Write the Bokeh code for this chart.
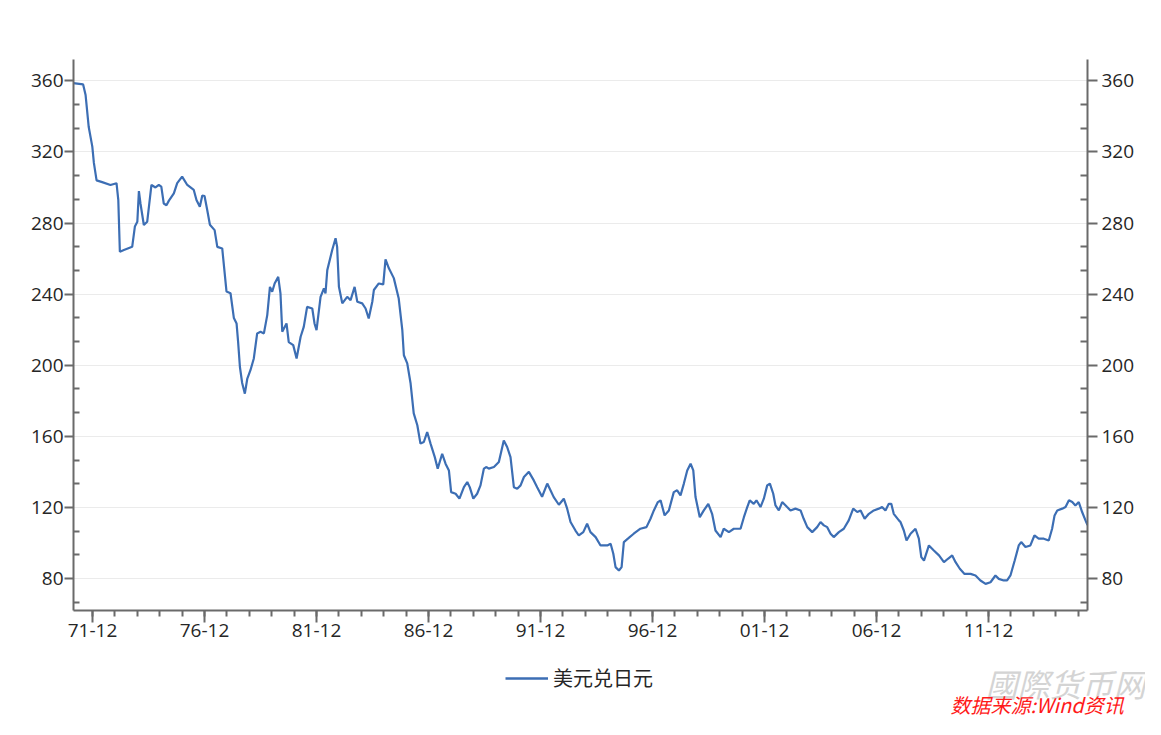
from bokeh.plotting import figure
from bokeh.models import Range1d, LinearAxis, FixedTicker, Legend, LegendItem, Label
from bokeh.layouts import column
from bokeh.embed import file_html
from bokeh.resources import INLINE

# ---- data (decimal year, USD/JPY) ----
years = [
    1971.06, 1971.50, 1971.61, 1971.75, 1971.91, 1971.98, 1972.10, 1972.35, 1972.72, 1972.99,
    1973.07, 1973.14, 1973.32, 1973.69, 1973.81, 1973.92, 1973.99, 1974.06, 1974.21, 1974.36,
    1974.55, 1974.73, 1974.88, 1974.99, 1975.10, 1975.22, 1975.33, 1975.55, 1975.70, 1975.92,
    1976.15, 1976.44, 1976.56, 1976.71, 1976.82, 1976.92, 1977.04, 1977.16, 1977.37, 1977.49,
    1977.71, 1977.90, 1978.08, 1978.23, 1978.35, 1978.42, 1978.50, 1978.60, 1978.72, 1978.83,
    1978.97, 1979.12, 1979.27, 1979.42, 1979.57, 1979.72, 1979.84, 1979.94, 1980.05, 1980.21,
    1980.31, 1980.39, 1980.58, 1980.68, 1980.88, 1981.03, 1981.21, 1981.35, 1981.50, 1981.73,
    1981.83, 1981.92, 1982.10, 1982.25, 1982.32, 1982.40, 1982.62, 1982.77, 1982.84, 1982.92,
    1983.07, 1983.29, 1983.44, 1983.62, 1983.74, 1983.96, 1984.11, 1984.25, 1984.41, 1984.48,
    1984.70, 1984.90, 1985.00, 1985.15, 1985.37, 1985.59, 1985.75, 1985.82, 1985.97, 1986.12,
    1986.26, 1986.42, 1986.56, 1986.71, 1986.86, 1987.01, 1987.20, 1987.33, 1987.53, 1987.68,
    1987.83, 1987.93, 1988.13, 1988.30, 1988.50, 1988.65, 1988.76, 1988.92, 1989.09, 1989.24,
    1989.39, 1989.51, 1989.61, 1989.84, 1990.06, 1990.28, 1990.43, 1990.58, 1990.73, 1990.88,
    1991.03, 1991.18, 1991.40, 1991.62, 1991.77, 1991.99, 1992.22, 1992.37, 1992.51, 1992.74,
    1992.96, 1993.11, 1993.26, 1993.48, 1993.63, 1993.83, 1994.00, 1994.15, 1994.38, 1994.60,
    1994.90, 1995.05, 1995.17, 1995.27, 1995.42, 1995.54, 1995.64, 1995.82, 1996.08, 1996.38,
    1996.65, 1996.83, 1996.98, 1997.16, 1997.28, 1997.46, 1997.65, 1997.87, 1998.02, 1998.17,
    1998.32, 1998.47, 1998.62, 1998.74, 1998.84, 1999.03, 1999.21, 1999.41, 1999.58, 1999.73,
    1999.96, 2000.10, 2000.33, 2000.55, 2000.85, 2001.00, 2001.15, 2001.26, 2001.44, 2001.56,
    2001.74, 2001.89, 2002.04, 2002.16, 2002.31, 2002.41, 2002.56, 2002.71, 2002.93, 2003.08,
    2003.30, 2003.53, 2003.67, 2003.83, 2004.05, 2004.27, 2004.42, 2004.57, 2004.72, 2004.87,
    2005.01, 2005.24, 2005.46, 2005.68, 2005.88, 2006.06, 2006.21, 2006.39, 2006.58, 2006.80,
    2007.02, 2007.17, 2007.32, 2007.47, 2007.58, 2007.69, 2007.92, 2007.99, 2008.14, 2008.26,
    2008.44, 2008.66, 2008.81, 2008.92, 2009.04, 2009.26, 2009.48, 2009.71, 2009.93, 2010.11,
    2010.30, 2010.45, 2010.64, 2010.85, 2011.12, 2011.34, 2011.56, 2011.79, 2012.01, 2012.23,
    2012.38, 2012.60, 2012.75, 2012.90, 2013.09, 2013.27, 2013.38, 2013.57, 2013.79, 2013.97,
    2014.16, 2014.39, 2014.61, 2014.76, 2014.87, 2014.99, 2015.21, 2015.36, 2015.51, 2015.66,
    2015.80, 2015.95, 2016.10, 2016.25, 2016.34,
]
usd_jpy = [
    358.7, 358.0, 352.0, 334.0, 323.0, 313.8, 304.0, 303.0, 301.4, 302.4,
    293.0, 263.8, 264.8, 266.6, 278.0, 280.7, 298.0, 291.0, 278.9, 280.7,
    301.4, 300.0, 301.4, 300.5, 291.0, 290.0, 292.6, 296.7, 302.4, 306.1,
    301.4, 298.6, 293.0, 289.2, 295.5, 295.2, 287.3, 279.0, 276.0, 266.6,
    265.7, 241.5, 240.5, 226.5, 223.5, 213.0, 199.0, 190.0, 184.0, 192.5,
    197.2, 203.8, 217.9, 218.8, 217.9, 228.2, 244.1, 241.3, 246.0, 249.7,
    240.4, 218.8, 223.5, 213.0, 211.3, 203.8, 216.0, 221.6, 232.8, 231.9,
    223.5, 219.7, 238.5, 243.2, 240.4, 253.5, 264.8, 271.4, 266.6, 244.1,
    234.8, 238.5, 236.6, 244.1, 235.7, 234.8, 231.9, 226.3, 235.7, 242.3,
    246.0, 245.5, 259.5, 254.5, 249.0, 237.5, 219.7, 205.6, 201.0, 189.7,
    172.9, 166.2, 155.9, 156.8, 162.4, 155.9, 148.3, 141.8, 150.2, 144.6,
    140.8, 128.6, 127.7, 124.9, 131.4, 134.3, 131.4, 124.9, 127.7, 132.4,
    141.8, 142.7, 141.8, 142.7, 145.5, 157.7, 154.0, 148.3, 131.4, 130.5,
    132.4, 137.1, 140.0, 135.2, 131.4, 126.0, 133.4, 129.5, 125.8, 121.5,
    124.9, 119.3, 111.8, 107.0, 104.2, 106.1, 110.8, 106.1, 103.3, 98.6,
    98.6, 99.6, 93.9, 86.4, 84.5, 86.4, 100.5, 102.4, 105.2, 108.0,
    108.9, 113.6, 118.3, 123.0, 124.0, 115.5, 118.3, 128.6, 129.6, 126.8,
    133.4, 140.8, 144.6, 140.8, 125.8, 114.5, 118.3, 122.0, 116.4, 107.0,
    103.3, 108.0, 106.1, 108.0, 108.0, 114.5, 120.2, 124.0, 122.0, 124.0,
    120.2, 124.9, 132.4, 133.4, 127.7, 121.1, 118.3, 123.0, 120.2, 118.3,
    119.3, 118.3, 113.6, 108.9, 106.1, 108.9, 111.8, 109.9, 108.9, 105.2,
    103.3, 106.1, 108.0, 112.7, 119.3, 117.4, 118.3, 113.6, 116.4, 118.3,
    119.3, 120.2, 118.3, 122.0, 122.0, 116.4, 112.7, 111.8, 107.0, 101.4,
    105.2, 108.0, 102.4, 92.0, 90.1, 98.6, 95.8, 93.0, 89.2, 91.1,
    93.0, 89.2, 85.5, 82.6, 82.6, 81.7, 78.9, 77.0, 77.9, 81.7,
    79.8, 78.9, 78.9, 81.7, 90.1, 98.6, 100.5, 97.7, 98.6, 104.2,
    102.4, 102.4, 101.4, 108.0, 115.5, 118.3, 119.3, 120.2, 124.0, 123.0,
    121.1, 123.0, 117.4, 112.7, 110.0,
]
series_name = "美元兑日元"
x_tick_years = [1971, 1976, 1981, 1986, 1991, 1996, 2001, 2006, 2011]
x_tick_labels = ["71-12", "76-12", "81-12", "86-12", "91-12", "96-12", "01-12", "06-12", "11-12"]
y_tick_values = [80, 120, 160, 200, 240, 280, 320, 360]

# ---- tick positions (December of each year) ----
x_major = [round(y + 0.92, 2) for y in x_tick_years]
x_minor = [round(y + 0.92, 2) for y in range(1971, 2016)]
x_overrides = {pos: lab for pos, lab in zip(x_major, x_tick_labels)}
y_minor = []
for v in [40] + y_tick_values:
    y_minor += [v + 40 / 3.0, v + 80 / 3.0]

LINE = "#3c6eb4"
AXIS = "#6a6a6a"
TXT = "#262626"
FONT = "Open Sans"
W = 1145

p = figure(width=W, height=652, output_backend="svg", toolbar_location=None,
           x_range=Range1d(1971.07, 2016.34), y_range=Range1d(62, 372),
           min_border_left=73, min_border_right=W - 1087, min_border_top=59,
           min_border_bottom=42, outline_line_color=None,
           background_fill_color="white", border_fill_color="white")
p.frame_align = False

r = p.line(years, usd_jpy, line_color=LINE, line_width=2.2)

yticker = FixedTicker(ticks=y_tick_values, minor_ticks=y_minor)
xticker = FixedTicker(ticks=x_major, minor_ticks=x_minor)

p.xgrid.visible = False
p.ygrid.ticker = yticker
p.ygrid.grid_line_color = "#ebebeb"
p.ygrid.grid_line_width = 1

def style_axis(ax):
    ax.axis_line_color = AXIS
    ax.axis_line_width = 2
    ax.major_tick_line_color = AXIS
    ax.major_tick_line_width = 2
    ax.minor_tick_line_color = AXIS
    ax.minor_tick_line_width = 2
    ax.major_label_text_color = TXT
    ax.major_label_text_font = FONT
    ax.major_label_text_font_size = "19px"

xa = p.xaxis[0]
xa.ticker = xticker
xa.major_label_overrides = x_overrides
style_axis(xa)
xa.major_tick_out = 12
xa.major_tick_in = 0
xa.minor_tick_out = 6
xa.minor_tick_in = 0
xa.major_label_standoff = 1

ya = p.yaxis[0]
ya.ticker = yticker
style_axis(ya)
ya.major_tick_out = 9
ya.major_tick_in = 0
ya.minor_tick_out = 0
ya.minor_tick_in = 6
ya.major_label_standoff = 1

ra = LinearAxis(ticker=yticker)
style_axis(ra)
ra.major_tick_out = 10
ra.major_tick_in = 0
ra.minor_tick_out = 0
ra.minor_tick_in = 7
ra.major_label_standoff = 4
p.add_layout(ra, "right")

# ---- bottom strip: legend, watermark and source note ----
H2 = 67
q = figure(width=W, height=H2, output_backend="svg", toolbar_location=None,
           x_range=Range1d(0, 1), y_range=Range1d(0, 1),
           min_border_left=0, min_border_right=0, min_border_top=0, min_border_bottom=0,
           outline_line_color=None, background_fill_color="white", border_fill_color="white")
q.frame_align = False
q.axis.visible = False
q.grid.visible = False
# the series itself, far outside this strip's ranges, only to feed the legend sample
r2 = q.line(years, usd_jpy, line_color=LINE, line_width=2.4)

legend = Legend(items=[LegendItem(label=series_name, renderers=[r2])],
                location=(505, 27), orientation="horizontal",
                border_line_color=None, background_fill_alpha=0,
                glyph_width=43, glyph_height=20, label_standoff=5,
                label_text_font="Noto Sans CJK SC", label_text_font_size="20px",
                label_text_color=TXT, margin=0, padding=0)
q.add_layout(legend, "center")

wm = Label(x=985, y=14, x_units="screen", y_units="screen", text="國際货币网",
           text_font="Noto Sans CJK TC", text_font_size="32px", text_font_style="italic",
           text_color="#d4d4d4", text_baseline="bottom")
src = Label(x=950, y=1, x_units="screen", y_units="screen", text="数据来源:Wind资讯",
            text_font="Noto Sans CJK SC", text_font_size="20px", text_font_style="italic",
            text_color="#ff1a1a", text_baseline="bottom")
q.add_layout(wm)
q.add_layout(src)

layout = column(p, q, spacing=0)
open("out.html", "w").write(file_html(layout, INLINE))
